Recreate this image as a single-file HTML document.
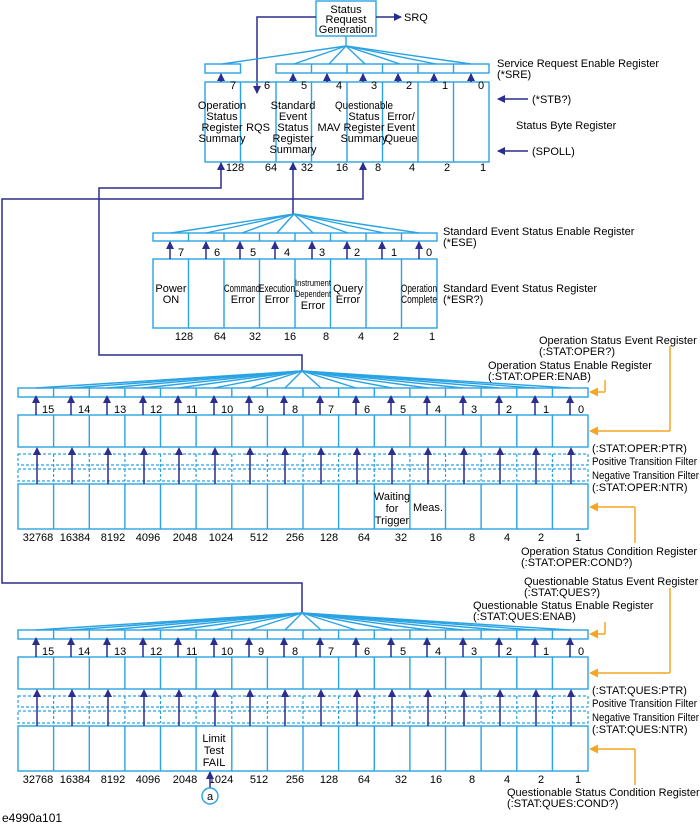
<!DOCTYPE html>
<html><head><meta charset="utf-8"><style>
html,body{margin:0;padding:0;background:#fff;}
svg{display:block;font-family:"Liberation Sans",Arial,sans-serif;font-size:11px;fill:#000;}
.c{fill:none;stroke:#29a3e3;stroke-width:1.4}
.d{fill:none;stroke:#29a3e3;stroke-width:1.2;stroke-dasharray:3,2}
.n{fill:none;stroke:#2b2d8f;stroke-width:1.5}
.o{fill:none;stroke:#f5a623;stroke-width:1.5}
.m{text-anchor:middle}
</style></head><body>
<svg width="700" height="828" viewBox="0 0 700 828" xmlns="http://www.w3.org/2000/svg">
<defs>
<marker id="a" markerWidth="8" markerHeight="8" refX="7" refY="4" orient="auto" markerUnits="userSpaceOnUse"><path d="M0,0 L8,4 L0,8 z" fill="#2b2d8f"/></marker>
<marker id="b" markerWidth="9" markerHeight="9" refX="8" refY="4.5" orient="auto" markerUnits="userSpaceOnUse"><path d="M0,0 L9,4.5 L0,9 z" fill="#f5a623"/></marker>
</defs>

<rect class="c" x="316" y="1" width="60" height="35"/>
<text class="m" x="346" y="13">Status</text>
<text class="m" x="346" y="23">Request</text>
<text class="m" x="346" y="33">Generation</text>
<line class="n" x1="376" y1="17" x2="401" y2="17" marker-end="url(#a)"/>
<text x="404" y="21">SRQ</text>
<polyline class="n" points="316,17 257,17 257,93" marker-end="url(#a)"/>

<g class="c">
<line x1="346" y1="36" x2="346" y2="46"/>
<line x1="346" y1="46" x2="222" y2="64"/>
<line x1="346" y1="46" x2="294" y2="64"/>
<line x1="346" y1="46" x2="329" y2="64"/>
<line x1="346" y1="46" x2="365" y2="64"/>
<line x1="346" y1="46" x2="400" y2="64"/>
<line x1="346" y1="46" x2="436" y2="64"/>
<line x1="346" y1="46" x2="471" y2="64"/>
<rect x="205" y="64" width="35.5" height="9"/>
<rect x="276" y="64" width="213" height="9"/>
<line x1="311.5" y1="64" x2="311.5" y2="73"/><line x1="347" y1="64" x2="347" y2="73"/><line x1="382.5" y1="64" x2="382.5" y2="73"/><line x1="418" y1="64" x2="418" y2="73"/><line x1="453.5" y1="64" x2="453.5" y2="73"/>
<rect x="205" y="82" width="284" height="80"/>
<line x1="240.5" y1="82" x2="240.5" y2="162"/><line x1="276" y1="82" x2="276" y2="162"/><line x1="311.5" y1="82" x2="311.5" y2="162"/><line x1="347" y1="82" x2="347" y2="162"/><line x1="382.5" y1="82" x2="382.5" y2="162"/><line x1="418" y1="82" x2="418" y2="162"/><line x1="453.5" y1="82" x2="453.5" y2="162"/>
</g>
<g class="n">
<line x1="221" y1="82" x2="221" y2="74" marker-end="url(#a)"/>
<line x1="293" y1="82" x2="293" y2="74" marker-end="url(#a)"/>
<line x1="327" y1="82" x2="327" y2="74" marker-end="url(#a)"/>
<line x1="363" y1="82" x2="363" y2="74" marker-end="url(#a)"/>
<line x1="398" y1="82" x2="398" y2="74" marker-end="url(#a)"/>
<line x1="434" y1="82" x2="434" y2="74" marker-end="url(#a)"/>
<line x1="471" y1="82" x2="471" y2="74" marker-end="url(#a)"/>
</g>
<text x="230" y="89">7</text><text x="264" y="89">6</text><text x="301" y="89">5</text><text x="336" y="89">4</text><text x="371" y="89">3</text><text x="406" y="89">2</text><text x="442" y="89">1</text><text x="478" y="89">0</text>
<text class="m" x="222" y="109">Operation</text><text class="m" x="222" y="120">Status</text><text class="m" x="222" y="131">Register</text><text class="m" x="222" y="142">Summary</text>
<text class="m" x="258" y="131">RQS</text>
<text class="m" x="293" y="109">Standard</text><text class="m" x="293" y="120">Event</text><text class="m" x="293" y="131">Status</text><text class="m" x="293" y="142">Register</text><text class="m" x="293" y="153">Summary</text>
<text class="m" x="329" y="131">MAV</text>
<text class="m" x="364" y="109" textLength="58" lengthAdjust="spacingAndGlyphs">Questionable</text><text class="m" x="364" y="120">Status</text><text class="m" x="364" y="131">Register</text><text class="m" x="364" y="142">Summary</text>
<text class="m" x="401" y="120">Error/</text><text class="m" x="401" y="131">Event</text><text class="m" x="401" y="142">Queue</text>
<text class="m" x="235" y="171">128</text><text class="m" x="271" y="171">64</text><text class="m" x="307" y="171">32</text><text class="m" x="342" y="171">16</text><text class="m" x="378" y="171">8</text><text class="m" x="412" y="171">4</text><text class="m" x="447" y="171">2</text><text class="m" x="483" y="171">1</text>
<text x="497" y="67">Service Request Enable Register</text><text x="497" y="78">(*SRE)</text>
<line class="n" x1="528" y1="99" x2="498" y2="99" marker-end="url(#a)"/><text x="532" y="103">(*STB?)</text>
<text x="516" y="129">Status Byte Register</text>
<line class="n" x1="528" y1="151" x2="498" y2="151" marker-end="url(#a)"/><text x="532" y="155">(SPOLL)</text>

<polyline class="n" points="302,371 302,355 99,355 99,188 221,188 221,163" marker-end="url(#a)"/>
<polyline class="n" points="302,612 302,583 2,583 2,199 363,199 363,163" marker-end="url(#a)"/>
<line class="n" x1="293" y1="214" x2="293" y2="163" marker-end="url(#a)"/>

<g class="c">
<line x1="294" y1="214" x2="171" y2="233"/><line x1="294" y1="214" x2="206" y2="233"/><line x1="294" y1="214" x2="242" y2="233"/><line x1="294" y1="214" x2="277" y2="233"/><line x1="294" y1="214" x2="313" y2="233"/><line x1="294" y1="214" x2="348" y2="233"/><line x1="294" y1="214" x2="384" y2="233"/><line x1="294" y1="214" x2="419" y2="233"/>
<rect x="153" y="233" width="284" height="8"/>
<line x1="188.5" y1="233" x2="188.5" y2="241"/><line x1="224" y1="233" x2="224" y2="241"/><line x1="259.5" y1="233" x2="259.5" y2="241"/><line x1="295" y1="233" x2="295" y2="241"/><line x1="330.5" y1="233" x2="330.5" y2="241"/><line x1="366" y1="233" x2="366" y2="241"/><line x1="401.5" y1="233" x2="401.5" y2="241"/>
<rect x="153" y="259" width="284" height="69"/>
<line x1="188.5" y1="259" x2="188.5" y2="328"/><line x1="224" y1="259" x2="224" y2="328"/><line x1="259.5" y1="259" x2="259.5" y2="328"/><line x1="295" y1="259" x2="295" y2="328"/><line x1="330.5" y1="259" x2="330.5" y2="328"/><line x1="366" y1="259" x2="366" y2="328"/><line x1="401.5" y1="259" x2="401.5" y2="328"/>
</g>
<g class="n">
<line x1="170" y1="259" x2="170" y2="242" marker-end="url(#a)"/><line x1="206" y1="259" x2="206" y2="242" marker-end="url(#a)"/><line x1="240" y1="259" x2="240" y2="242" marker-end="url(#a)"/><line x1="275" y1="259" x2="275" y2="242" marker-end="url(#a)"/><line x1="312" y1="259" x2="312" y2="242" marker-end="url(#a)"/><line x1="347" y1="259" x2="347" y2="242" marker-end="url(#a)"/><line x1="382" y1="259" x2="382" y2="242" marker-end="url(#a)"/><line x1="419" y1="259" x2="419" y2="242" marker-end="url(#a)"/>
</g>
<text x="178" y="256">7</text><text x="214" y="256">6</text><text x="250" y="256">5</text><text x="284" y="256">4</text><text x="319" y="256">3</text><text x="354" y="256">2</text><text x="391" y="256">1</text><text x="426" y="256">0</text>
<text class="m" x="171" y="292">Power</text><text class="m" x="171" y="303">ON</text>
<text class="m" x="242" y="292" textLength="36" lengthAdjust="spacingAndGlyphs">Command</text><text class="m" x="243" y="303">Error</text>
<text class="m" x="277" y="292" textLength="36" lengthAdjust="spacingAndGlyphs">Execution</text><text class="m" x="277" y="303">Error</text>
<text class="m" x="313" y="286" font-size="9" textLength="36" lengthAdjust="spacingAndGlyphs">Instrument</text><text class="m" x="313" y="297" font-size="9" textLength="36" lengthAdjust="spacingAndGlyphs">Dependent</text><text class="m" x="313" y="309">Error</text>
<text class="m" x="348" y="292">Query</text><text class="m" x="348" y="303">Error</text>
<text class="m" x="419" y="292" textLength="36" lengthAdjust="spacingAndGlyphs">Operation</text><text class="m" x="419" y="303" textLength="36" lengthAdjust="spacingAndGlyphs">Complete</text>
<text class="m" x="184" y="340">128</text><text class="m" x="220" y="340">64</text><text class="m" x="255" y="340">32</text><text class="m" x="290" y="340">16</text><text class="m" x="326" y="340">8</text><text class="m" x="361" y="340">4</text><text class="m" x="396" y="340">2</text><text class="m" x="432" y="340">1</text>
<text x="443" y="235">Standard Event Status Enable Register</text><text x="443" y="246">(*ESE)</text>
<text x="443" y="292">Standard Event Status Register</text><text x="443" y="303">(*ESR?)</text>

<g id="reg">
<g class="c">
<line x1="302" y1="371" x2="36" y2="388"/><line x1="302" y1="371" x2="71" y2="388"/><line x1="302" y1="371" x2="107" y2="388"/><line x1="302" y1="371" x2="143" y2="388"/><line x1="302" y1="371" x2="178" y2="388"/><line x1="302" y1="371" x2="214" y2="388"/><line x1="302" y1="371" x2="250" y2="388"/><line x1="302" y1="371" x2="285" y2="388"/><line x1="302" y1="371" x2="321" y2="388"/><line x1="302" y1="371" x2="356" y2="388"/><line x1="302" y1="371" x2="392" y2="388"/><line x1="302" y1="371" x2="428" y2="388"/><line x1="302" y1="371" x2="463" y2="388"/><line x1="302" y1="371" x2="499" y2="388"/><line x1="302" y1="371" x2="535" y2="388"/><line x1="302" y1="371" x2="570" y2="388"/>
<rect x="18" y="388" width="570" height="9"/>
<rect x="18" y="415" width="570" height="32"/>
<rect x="18" y="484" width="570" height="45"/>
<path d="M53.6,388V397M89.3,388V397M124.9,388V397M160.5,388V397M196.1,388V397M231.8,388V397M267.4,388V397M303,388V397M338.6,388V397M374.3,388V397M409.9,388V397M445.5,388V397M481.1,388V397M516.8,388V397M552.4,388V397"/>
<path d="M53.6,415V447M89.3,415V447M124.9,415V447M160.5,415V447M196.1,415V447M231.8,415V447M267.4,415V447M303,415V447M338.6,415V447M374.3,415V447M409.9,415V447M445.5,415V447M481.1,415V447M516.8,415V447M552.4,415V447"/>
<path d="M53.6,484V529M89.3,484V529M124.9,484V529M160.5,484V529M196.1,484V529M231.8,484V529M267.4,484V529M303,484V529M338.6,484V529M374.3,484V529M409.9,484V529M445.5,484V529M481.1,484V529M516.8,484V529M552.4,484V529"/>
</g>
<g class="d">
<rect x="18" y="454" width="570" height="11"/>
<rect x="18" y="469" width="570" height="12"/>
<path d="M53.6,454V481M89.3,454V481M124.9,454V481M160.5,454V481M196.1,454V481M231.8,454V481M267.4,454V481M303,454V481M338.6,454V481M374.3,454V481M409.9,454V481M445.5,454V481M481.1,454V481M516.8,454V481M552.4,454V481"/>
</g>
<g class="n">
<path d="M36,415V398M71,415V398M107,415V398M143,415V398M178,415V398M214,415V398M249,415V398M284,415V398M320,415V398M356,415V398M391,415V398M427,415V398M463,415V398M499,415V398M535,415V398M570,415V398"/>
<path d="M37,484V449M72,484V449M108,484V449M144,484V449M179,484V449M215,484V449M250,484V449M285,484V449M321,484V449M357,484V449M392,484V449M428,484V449M464,484V449M500,484V449M536,484V449M571,484V449"/>
</g>
<g fill="#2b2d8f">
<path d="M32,403L36,395L40,403zM67,403L71,395L75,403zM103,403L107,395L111,403zM139,403L143,395L147,403zM174,403L178,395L182,403zM210,403L214,395L218,403zM245,403L249,395L253,403zM280,403L284,395L288,403zM316,403L320,395L324,403zM352,403L356,395L360,403zM387,403L391,395L395,403zM423,403L427,395L431,403zM459,403L463,395L467,403zM495,403L499,395L503,403zM531,403L535,395L539,403zM566,403L570,395L574,403z"/>
<path d="M33,455L37,447L41,455zM68,455L72,447L76,455zM104,455L108,447L112,455zM140,455L144,447L148,455zM175,455L179,447L183,455zM211,455L215,447L219,455zM246,455L250,447L254,455zM281,455L285,447L289,455zM317,455L321,447L325,455zM353,455L357,447L361,455zM388,455L392,447L396,455zM424,455L428,447L432,455zM460,455L464,447L468,455zM496,455L500,447L504,455zM532,455L536,447L540,455zM567,455L571,447L575,455z"/>
</g>
<text x="42" y="413">15</text><text x="78" y="413">14</text><text x="114" y="413">13</text><text x="150" y="413">12</text><text x="186" y="413">11</text><text x="221" y="413">10</text><text x="258" y="413">9</text><text x="292" y="413">8</text><text x="328" y="413">7</text><text x="364" y="413">6</text><text x="400" y="413">5</text><text x="435" y="413">4</text><text x="471" y="413">3</text><text x="506" y="413">2</text><text x="543" y="413">1</text><text x="578" y="413">0</text>
<text class="m" x="38" y="541">32768</text><text class="m" x="75" y="541">16384</text><text class="m" x="113" y="541">8192</text><text class="m" x="148" y="541">4096</text><text class="m" x="185" y="541">2048</text><text class="m" x="221" y="541">1024</text><text class="m" x="259" y="541">512</text><text class="m" x="295" y="541">256</text><text class="m" x="329" y="541">128</text><text class="m" x="364" y="541">64</text><text class="m" x="401" y="541">32</text><text class="m" x="436" y="541">16</text><text class="m" x="472" y="541">8</text><text class="m" x="507" y="541">4</text><text class="m" x="541" y="541">2</text><text class="m" x="578" y="541">1</text>
<line class="o" x1="605" y1="380" x2="605" y2="392"/><line class="o" x1="605" y1="392" x2="590" y2="392" marker-end="url(#b)"/>
<line class="o" x1="670" y1="346" x2="670" y2="431"/><line class="o" x1="670" y1="431" x2="590" y2="431" marker-end="url(#b)"/>
<line class="o" x1="635" y1="543" x2="635" y2="507"/><line class="o" x1="635" y1="507" x2="590" y2="507" marker-end="url(#b)"/>
<text x="592" y="465" textLength="105" lengthAdjust="spacingAndGlyphs">Positive Transition Filter</text>
<text x="592" y="479" textLength="107" lengthAdjust="spacingAndGlyphs">Negative Transition Filter</text>
</g>
<text class="m" x="392" y="500">Waiting</text><text class="m" x="392" y="512">for</text><text class="m" x="392" y="524">Trigger</text>
<text class="m" x="428" y="511">Meas.</text>
<text x="539" y="344">Operation Status Event Register</text><text x="539" y="355">(:STAT:OPER?)</text>
<text x="488" y="369">Operation Status Enable Register</text><text x="488" y="380">(:STAT:OPER:ENAB)</text>
<text x="592" y="452">(:STAT:OPER:PTR)</text>
<text x="592" y="491">(:STAT:OPER:NTR)</text>
<text x="521" y="555">Operation Status Condition Register</text><text x="521" y="566">(:STAT:OPER:COND?)</text>

<use href="#reg" transform="translate(0,242)"/>
<rect x="197" y="727" width="34" height="42" fill="#fff"/>
<text class="m" x="214" y="742">Limit</text><text class="m" x="214" y="754">Test</text><text class="m" x="214" y="766">FAIL</text>
<line class="n" x1="210" y1="788" x2="210" y2="772" marker-end="url(#a)"/>
<circle cx="210" cy="796" r="8" fill="#fff" stroke="#29a3e3" stroke-width="1.4"/>
<text class="m" x="210" y="800">a</text>
<text x="524" y="585">Questionable Status Event Register</text><text x="524" y="596">(:STAT:QUES?)</text>
<text x="473" y="609">Questionable Status Enable Register</text><text x="473" y="620">(:STAT:QUES:ENAB)</text>
<text x="592" y="694">(:STAT:QUES:PTR)</text>
<text x="592" y="733">(:STAT:QUES:NTR)</text>
<text x="507" y="796">Questionable Status Condition Register</text><text x="507" y="807">(:STAT:QUES:COND?)</text>
<text x="2" y="822" font-size="12">e4990a101</text>
</svg>
</body></html>
